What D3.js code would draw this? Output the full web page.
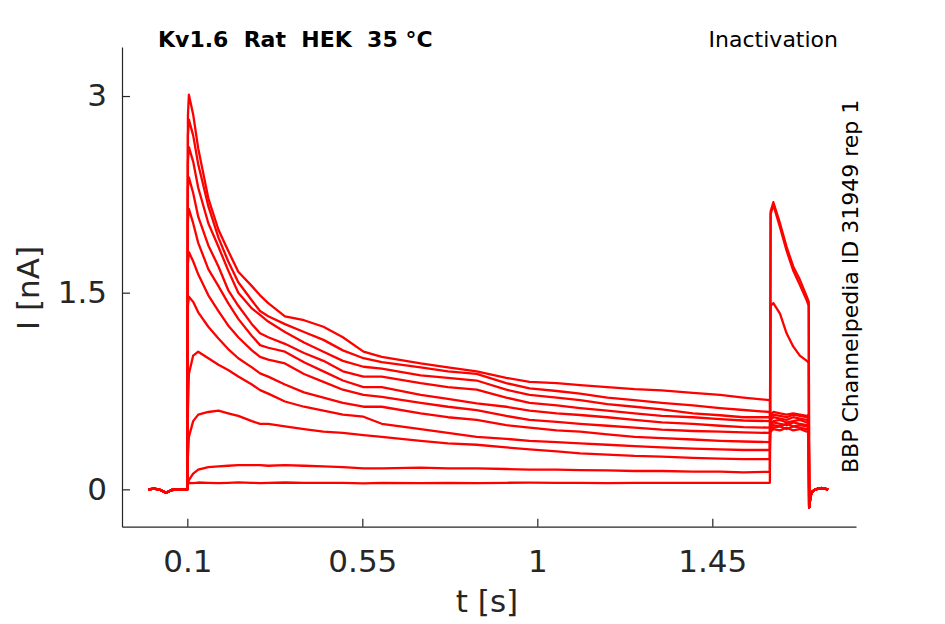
<!DOCTYPE html>
<html>
<head>
<meta charset="utf-8">
<script src="https://cdn.jsdelivr.net/npm/d3@7"></script>
<style>
  html, body { margin: 0; padding: 0; background: #fff; }
  svg { display: block; font-family: "DejaVu Sans", sans-serif; }
</style>
</head>
<body>
<svg id="chart" width="945" height="624"></svg>
<script>
// ---- data ----
const xTickValues = [0.1, 0.55, 1, 1.45];
const yTickValues = [0, 1.5, 3];
const xTickLabels = ["0.1", "0.55", "1", "1.45"];
const yTickLabels = ["0", "1.5", "3"];

// holding baseline before the prepulse (s, nA)
const baselineTimes  = [0, 0.015, 0.03, 0.045, 0.05, 0.06, 0.075, 0.09, 0.1];
const baselineValues = [0, 0.005, -0.005, -0.025, -0.02, -0.005, 0, 0.002, 0];

// conditioning step
const prepulseTimes = [0.1015, 0.104, 0.115, 0.128, 0.154, 0.18, 0.205, 0.231, 0.266, 0.287,
  0.308, 0.351, 0.4, 0.45, 0.5, 0.553, 0.6, 0.7, 0.77, 0.844,
  0.92, 0.98, 1.05, 1.11, 1.18, 1.25, 1.32, 1.4, 1.47, 1.53, 1.598];

const sweep1  = [2.85, 3.01, 2.86, 2.60, 2.22, 1.98, 1.82, 1.66, 1.55, 1.48, 1.42, 1.32, 1.29, 1.24, 1.16, 1.05, 1.01, 0.96, 0.93, 0.90, 0.85, 0.82, 0.81, 0.795, 0.78, 0.765, 0.755, 0.735, 0.72, 0.70, 0.68];
const sweep2  = [2.70, 2.82, 2.70, 2.48, 2.16, 1.92, 1.74, 1.58, 1.44, 1.36, 1.32, 1.26, 1.20, 1.14, 1.06, 1.00, 0.97, 0.93, 0.90, 0.88, 0.81, 0.77, 0.75, 0.73, 0.70, 0.68, 0.66, 0.64, 0.62, 0.605, 0.59];
const sweep3  = [2.50, 2.61, 2.50, 2.30, 2.03, 1.85, 1.67, 1.50, 1.38, 1.33, 1.28, 1.20, 1.12, 1.05, 0.98, 0.935, 0.92, 0.87, 0.85, 0.83, 0.76, 0.72, 0.70, 0.68, 0.65, 0.63, 0.61, 0.58, 0.565, 0.55, 0.55];
const sweep4  = [2.30, 2.38, 2.26, 2.08, 1.86, 1.70, 1.52, 1.40, 1.26, 1.19, 1.16, 1.11, 1.04, 0.98, 0.90, 0.86, 0.86, 0.81, 0.78, 0.76, 0.70, 0.66, 0.64, 0.62, 0.60, 0.58, 0.56, 0.55, 0.535, 0.525, 0.52];
const sweep5  = [2.05, 2.14, 2.03, 1.88, 1.68, 1.55, 1.42, 1.30, 1.17, 1.10, 1.08, 1.05, 0.97, 0.90, 0.83, 0.78, 0.78, 0.72, 0.69, 0.655, 0.63, 0.60, 0.58, 0.567, 0.55, 0.53, 0.51, 0.50, 0.485, 0.475, 0.47];
const sweep6  = [1.72, 1.81, 1.74, 1.64, 1.48, 1.36, 1.25, 1.16, 1.06, 1.01, 0.99, 0.96, 0.88, 0.82, 0.76, 0.72, 0.705, 0.66, 0.63, 0.605, 0.56, 0.53, 0.515, 0.50, 0.485, 0.47, 0.455, 0.445, 0.44, 0.435, 0.43];
const sweep7  = [1.40, 1.47, 1.43, 1.35, 1.24, 1.15, 1.07, 1.00, 0.93, 0.885, 0.86, 0.80, 0.74, 0.70, 0.66, 0.63, 0.63, 0.58, 0.55, 0.53, 0.49, 0.47, 0.45, 0.44, 0.42, 0.40, 0.39, 0.38, 0.37, 0.365, 0.36];
const sweep8  = [0.60, 0.88, 1.02, 1.05, 1.00, 0.95, 0.91, 0.86, 0.80, 0.757, 0.73, 0.67, 0.63, 0.60, 0.57, 0.554, 0.50, 0.46, 0.43, 0.40, 0.385, 0.37, 0.36, 0.35, 0.34, 0.33, 0.32, 0.31, 0.305, 0.30, 0.30];
const sweep9  = [0.25, 0.40, 0.52, 0.57, 0.59, 0.60, 0.58, 0.56, 0.52, 0.50, 0.50, 0.48, 0.46, 0.44, 0.43, 0.414, 0.40, 0.37, 0.35, 0.34, 0.32, 0.305, 0.29, 0.275, 0.265, 0.255, 0.25, 0.24, 0.235, 0.23, 0.23];
const sweep10 = [0.04, 0.07, 0.12, 0.15, 0.17, 0.175, 0.18, 0.185, 0.185, 0.185, 0.18, 0.185, 0.18, 0.175, 0.17, 0.16, 0.16, 0.165, 0.16, 0.16, 0.155, 0.15, 0.15, 0.147, 0.145, 0.14, 0.14, 0.135, 0.135, 0.13, 0.134];
const sweep11 = [0.05, 0.05, 0.048, 0.052, 0.05, 0.047, 0.05, 0.053, 0.05, 0.048, 0.05, 0.052, 0.05, 0.049, 0.05, 0.046, 0.05, 0.048, 0.05, 0.047, 0.05, 0.051, 0.05, 0.05, 0.048, 0.05, 0.05, 0.049, 0.05, 0.05, 0.05];

// test step
const testTimes = [1.6, 1.607, 1.624, 1.641, 1.658, 1.675, 1.693, 1.698];
const test1  = [0.44, 0.46, 0.45, 0.47, 0.45, 0.46, 0.44, 0.45];
const test2  = [0.46, 0.47, 0.48, 0.46, 0.48, 0.47, 0.46, 0.47];
const test3  = [0.47, 0.49, 0.48, 0.50, 0.48, 0.49, 0.48, 0.49];
const test4  = [0.49, 0.51, 0.50, 0.49, 0.51, 0.50, 0.49, 0.50];
const test5  = [0.51, 0.52, 0.53, 0.51, 0.52, 0.53, 0.51, 0.52];
const test6  = [0.53, 0.55, 0.54, 0.53, 0.55, 0.54, 0.53, 0.54];
const test7  = [0.55, 0.57, 0.56, 0.55, 0.57, 0.56, 0.55, 0.56];
const test8  = [0.57, 0.59, 0.58, 0.57, 0.58, 0.57, 0.56, 0.57];
const test9  = [1.40, 1.42, 1.34, 1.19, 1.09, 1.02, 0.98, 0.966];
const test10 = [2.10, 2.17, 2.00, 1.82, 1.67, 1.56, 1.44, 1.40];
const test11 = [2.12, 2.19, 2.03, 1.85, 1.70, 1.60, 1.47, 1.43];

// return to holding
const tailTimes  = [1.699, 1.700, 1.702, 1.706, 1.715, 1.73, 1.748];
const tailValues = [-0.14, -0.12, -0.06, -0.02, 0.0, 0.01, 0.0];

const prepulseSweeps = [sweep1, sweep2, sweep3, sweep4, sweep5, sweep6, sweep7, sweep8, sweep9, sweep10, sweep11];
const testSweeps = [test1, test2, test3, test4, test5, test6, test7, test8, test9, test10, test11];

// ---- build ----
const svg = d3.select("#chart");
const x = d3.scaleLinear().domain([-0.068, 1.8195]).range([122, 856]);
const y = d3.scaleLinear().domain([-0.285, 3.374]).range([526.7, 47]);
const axisColor = "#262626";

const zip = (ts, vs) => ts.map((t, i) => [t, vs[i]]);
const sweeps = prepulseSweeps.map((pv, k) =>
  zip(baselineTimes, baselineValues)
    .concat(zip(prepulseTimes, pv))
    .concat(zip(testTimes, testSweeps[k]))
    .concat(zip(tailTimes, tailValues))
);

const line = d3.line().x(d => x(d[0])).y(d => y(d[1]));

svg.append("g")
  .selectAll("path")
  .data(sweeps)
  .join("path")
  .attr("d", line)
  .attr("fill", "none")
  .attr("stroke", "#ff0000")
  .attr("stroke-width", 2.3)
  .attr("stroke-linejoin", "round");

// axes
const xAxis = d3.axisBottom(x).tickValues(xTickValues)
  .tickFormat((d, i) => xTickLabels[i]).tickSizeInner(-8).tickSizeOuter(0).tickPadding(23);
const yAxis = d3.axisLeft(y).tickValues(yTickValues)
  .tickFormat((d, i) => yTickLabels[i]).tickSizeInner(-8).tickSizeOuter(0).tickPadding(15);

const gx = svg.append("g").attr("transform", `translate(0,${y.range()[0]})`).call(xAxis);
const gy = svg.append("g").attr("transform", `translate(${x.range()[0]},0)`).call(yAxis);
[gx, gy].forEach(g => {
  g.select(".domain").attr("stroke", axisColor).attr("stroke-width", 1.2);
  g.selectAll(".tick line").attr("stroke", axisColor).attr("stroke-width", 1.2);
  g.selectAll(".tick text").attr("fill", axisColor)
    .style("font-family", "DejaVu Sans").style("font-size", "31px");
});

// labels
svg.append("text").attr("x", 487).attr("y", 612).attr("text-anchor", "middle")
  .attr("fill", axisColor).style("font-size", "31px").text("t [s]");
svg.append("text").attr("transform", "translate(38.5,288) rotate(-90)")
  .attr("text-anchor", "middle").attr("fill", axisColor).style("font-size", "31px").text("I [nA]");

svg.append("text").attr("x", 158).attr("y", 47).attr("fill", "#000")
  .style("font-size", "22px").style("font-weight", "bold")
  .attr("xml:space", "preserve").style("white-space", "pre")
  .text("Kv1.6  Rat  HEK  35 °C");
svg.append("text").attr("x", 838).attr("y", 47).attr("text-anchor", "end").attr("fill", "#000")
  .style("font-size", "22px").text("Inactivation");
svg.append("text").attr("transform", "translate(858,473) rotate(-90)")
  .attr("fill", "#000").style("font-size", "22px").text("BBP Channelpedia ID 31949 rep 1");
</script>
</body>
</html>
